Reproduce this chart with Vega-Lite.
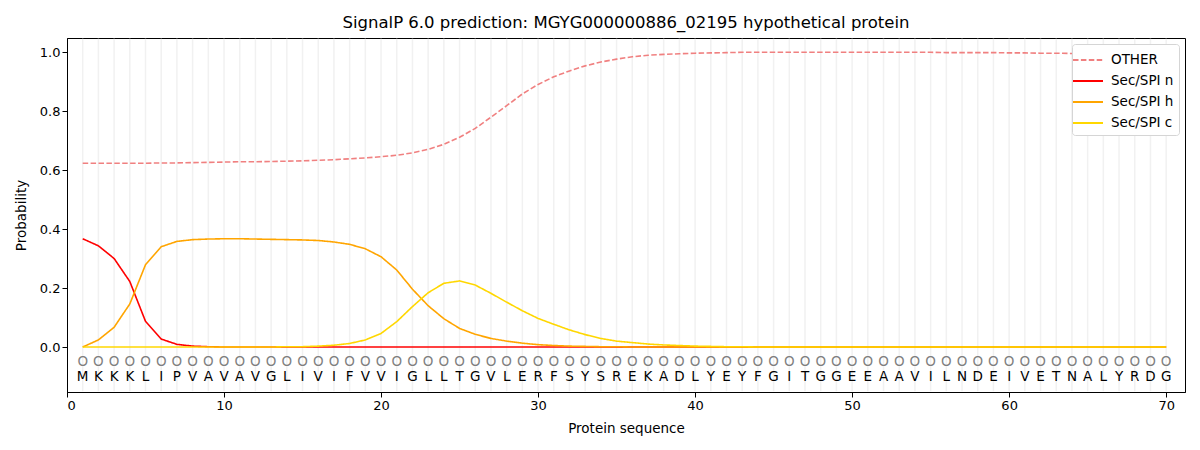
{
  "$schema": "https://vega.github.io/schema/vega-lite/v6.json",
  "description": "SignalP 6.0 per-residue probabilities",
  "autosize": {"type": "none"},
  "width": 1118,
  "height": 354,
  "padding": {"left": 67, "top": 38, "right": 15, "bottom": 58},
  "background": "white",
  "config": {
    "font": "DejaVu Sans",
    "view": {"stroke": "black", "strokeWidth": 1},
    "axis": {"labelFontSize": 13, "titleFontSize": 13.5, "titleFontWeight": "normal", "labelColor": "black", "titleColor": "black", "domainColor": "black", "tickColor": "black", "grid": false, "tickSize": 5}
  },
  "title": {"text": "SignalP 6.0 prediction: MGYG000000886_02195 hypothetical protein", "fontSize": 16.5, "fontWeight": "normal", "offset": 6},
  "data": {"values": [
    {"pos": 1, "aa": "M", "OTHER": 0.623, "Sec/SPI n": 0.367, "Sec/SPI h": 0.000, "Sec/SPI c": 0.000},
    {"pos": 2, "aa": "K", "OTHER": 0.623, "Sec/SPI n": 0.343, "Sec/SPI h": 0.024, "Sec/SPI c": 0.000},
    {"pos": 3, "aa": "K", "OTHER": 0.623, "Sec/SPI n": 0.300, "Sec/SPI h": 0.067, "Sec/SPI c": 0.000},
    {"pos": 4, "aa": "K", "OTHER": 0.623, "Sec/SPI n": 0.222, "Sec/SPI h": 0.146, "Sec/SPI c": 0.000},
    {"pos": 5, "aa": "L", "OTHER": 0.623, "Sec/SPI n": 0.087, "Sec/SPI h": 0.279, "Sec/SPI c": 0.000},
    {"pos": 6, "aa": "I", "OTHER": 0.624, "Sec/SPI n": 0.027, "Sec/SPI h": 0.340, "Sec/SPI c": 0.000},
    {"pos": 7, "aa": "P", "OTHER": 0.624, "Sec/SPI n": 0.009, "Sec/SPI h": 0.358, "Sec/SPI c": 0.000},
    {"pos": 8, "aa": "V", "OTHER": 0.625, "Sec/SPI n": 0.003, "Sec/SPI h": 0.364, "Sec/SPI c": 0.000},
    {"pos": 9, "aa": "A", "OTHER": 0.626, "Sec/SPI n": 0.001, "Sec/SPI h": 0.366, "Sec/SPI c": 0.000},
    {"pos": 10, "aa": "V", "OTHER": 0.627, "Sec/SPI n": 0.000, "Sec/SPI h": 0.367, "Sec/SPI c": 0.000},
    {"pos": 11, "aa": "A", "OTHER": 0.628, "Sec/SPI n": 0.000, "Sec/SPI h": 0.367, "Sec/SPI c": 0.000},
    {"pos": 12, "aa": "V", "OTHER": 0.628, "Sec/SPI n": 0.000, "Sec/SPI h": 0.366, "Sec/SPI c": 0.000},
    {"pos": 13, "aa": "G", "OTHER": 0.629, "Sec/SPI n": 0.000, "Sec/SPI h": 0.365, "Sec/SPI c": 0.000},
    {"pos": 14, "aa": "L", "OTHER": 0.630, "Sec/SPI n": 0.000, "Sec/SPI h": 0.364, "Sec/SPI c": 0.001},
    {"pos": 15, "aa": "I", "OTHER": 0.631, "Sec/SPI n": 0.000, "Sec/SPI h": 0.363, "Sec/SPI c": 0.001},
    {"pos": 16, "aa": "V", "OTHER": 0.633, "Sec/SPI n": 0.000, "Sec/SPI h": 0.361, "Sec/SPI c": 0.003},
    {"pos": 17, "aa": "I", "OTHER": 0.635, "Sec/SPI n": 0.000, "Sec/SPI h": 0.356, "Sec/SPI c": 0.006},
    {"pos": 18, "aa": "F", "OTHER": 0.638, "Sec/SPI n": 0.000, "Sec/SPI h": 0.348, "Sec/SPI c": 0.012},
    {"pos": 19, "aa": "V", "OTHER": 0.641, "Sec/SPI n": 0.000, "Sec/SPI h": 0.333, "Sec/SPI c": 0.024},
    {"pos": 20, "aa": "V", "OTHER": 0.645, "Sec/SPI n": 0.000, "Sec/SPI h": 0.306, "Sec/SPI c": 0.046},
    {"pos": 21, "aa": "I", "OTHER": 0.650, "Sec/SPI n": 0.000, "Sec/SPI h": 0.261, "Sec/SPI c": 0.086},
    {"pos": 22, "aa": "G", "OTHER": 0.658, "Sec/SPI n": 0.000, "Sec/SPI h": 0.196, "Sec/SPI c": 0.137},
    {"pos": 23, "aa": "L", "OTHER": 0.670, "Sec/SPI n": 0.000, "Sec/SPI h": 0.140, "Sec/SPI c": 0.184},
    {"pos": 24, "aa": "L", "OTHER": 0.687, "Sec/SPI n": 0.000, "Sec/SPI h": 0.096, "Sec/SPI c": 0.216},
    {"pos": 25, "aa": "T", "OTHER": 0.711, "Sec/SPI n": 0.000, "Sec/SPI h": 0.063, "Sec/SPI c": 0.224},
    {"pos": 26, "aa": "G", "OTHER": 0.741, "Sec/SPI n": 0.000, "Sec/SPI h": 0.043, "Sec/SPI c": 0.210},
    {"pos": 27, "aa": "V", "OTHER": 0.779, "Sec/SPI n": 0.000, "Sec/SPI h": 0.029, "Sec/SPI c": 0.182},
    {"pos": 28, "aa": "L", "OTHER": 0.818, "Sec/SPI n": 0.000, "Sec/SPI h": 0.020, "Sec/SPI c": 0.152},
    {"pos": 29, "aa": "E", "OTHER": 0.858, "Sec/SPI n": 0.000, "Sec/SPI h": 0.013, "Sec/SPI c": 0.123},
    {"pos": 30, "aa": "R", "OTHER": 0.890, "Sec/SPI n": 0.000, "Sec/SPI h": 0.008, "Sec/SPI c": 0.097},
    {"pos": 31, "aa": "F", "OTHER": 0.916, "Sec/SPI n": 0.000, "Sec/SPI h": 0.005, "Sec/SPI c": 0.077},
    {"pos": 32, "aa": "S", "OTHER": 0.936, "Sec/SPI n": 0.000, "Sec/SPI h": 0.003, "Sec/SPI c": 0.058},
    {"pos": 33, "aa": "Y", "OTHER": 0.953, "Sec/SPI n": 0.000, "Sec/SPI h": 0.002, "Sec/SPI c": 0.042},
    {"pos": 34, "aa": "S", "OTHER": 0.966, "Sec/SPI n": 0.000, "Sec/SPI h": 0.001, "Sec/SPI c": 0.029},
    {"pos": 35, "aa": "R", "OTHER": 0.976, "Sec/SPI n": 0.000, "Sec/SPI h": 0.001, "Sec/SPI c": 0.020},
    {"pos": 36, "aa": "E", "OTHER": 0.984, "Sec/SPI n": 0.000, "Sec/SPI h": 0.000, "Sec/SPI c": 0.015},
    {"pos": 37, "aa": "K", "OTHER": 0.989, "Sec/SPI n": 0.000, "Sec/SPI h": 0.000, "Sec/SPI c": 0.010},
    {"pos": 38, "aa": "A", "OTHER": 0.992, "Sec/SPI n": 0.000, "Sec/SPI h": 0.000, "Sec/SPI c": 0.007},
    {"pos": 39, "aa": "D", "OTHER": 0.994, "Sec/SPI n": 0.000, "Sec/SPI h": 0.000, "Sec/SPI c": 0.005},
    {"pos": 40, "aa": "L", "OTHER": 0.996, "Sec/SPI n": 0.000, "Sec/SPI h": 0.000, "Sec/SPI c": 0.003},
    {"pos": 41, "aa": "Y", "OTHER": 0.997, "Sec/SPI n": 0.000, "Sec/SPI h": 0.000, "Sec/SPI c": 0.002},
    {"pos": 42, "aa": "E", "OTHER": 0.998, "Sec/SPI n": 0.000, "Sec/SPI h": 0.000, "Sec/SPI c": 0.001},
    {"pos": 43, "aa": "Y", "OTHER": 0.999, "Sec/SPI n": 0.000, "Sec/SPI h": 0.000, "Sec/SPI c": 0.001},
    {"pos": 44, "aa": "F", "OTHER": 0.999, "Sec/SPI n": 0.000, "Sec/SPI h": 0.000, "Sec/SPI c": 0.000},
    {"pos": 45, "aa": "G", "OTHER": 0.999, "Sec/SPI n": 0.000, "Sec/SPI h": 0.000, "Sec/SPI c": 0.000},
    {"pos": 46, "aa": "I", "OTHER": 0.999, "Sec/SPI n": 0.000, "Sec/SPI h": 0.000, "Sec/SPI c": 0.000},
    {"pos": 47, "aa": "T", "OTHER": 0.999, "Sec/SPI n": 0.000, "Sec/SPI h": 0.000, "Sec/SPI c": 0.000},
    {"pos": 48, "aa": "G", "OTHER": 0.999, "Sec/SPI n": 0.000, "Sec/SPI h": 0.000, "Sec/SPI c": 0.000},
    {"pos": 49, "aa": "G", "OTHER": 0.999, "Sec/SPI n": 0.000, "Sec/SPI h": 0.000, "Sec/SPI c": 0.000},
    {"pos": 50, "aa": "E", "OTHER": 0.999, "Sec/SPI n": 0.000, "Sec/SPI h": 0.000, "Sec/SPI c": 0.000},
    {"pos": 51, "aa": "E", "OTHER": 0.999, "Sec/SPI n": 0.000, "Sec/SPI h": 0.000, "Sec/SPI c": 0.000},
    {"pos": 52, "aa": "A", "OTHER": 0.999, "Sec/SPI n": 0.000, "Sec/SPI h": 0.000, "Sec/SPI c": 0.000},
    {"pos": 53, "aa": "A", "OTHER": 0.999, "Sec/SPI n": 0.000, "Sec/SPI h": 0.000, "Sec/SPI c": 0.000},
    {"pos": 54, "aa": "V", "OTHER": 0.999, "Sec/SPI n": 0.000, "Sec/SPI h": 0.000, "Sec/SPI c": 0.000},
    {"pos": 55, "aa": "I", "OTHER": 0.999, "Sec/SPI n": 0.000, "Sec/SPI h": 0.000, "Sec/SPI c": 0.000},
    {"pos": 56, "aa": "L", "OTHER": 0.998, "Sec/SPI n": 0.000, "Sec/SPI h": 0.000, "Sec/SPI c": 0.000},
    {"pos": 57, "aa": "N", "OTHER": 0.998, "Sec/SPI n": 0.000, "Sec/SPI h": 0.000, "Sec/SPI c": 0.000},
    {"pos": 58, "aa": "D", "OTHER": 0.998, "Sec/SPI n": 0.000, "Sec/SPI h": 0.000, "Sec/SPI c": 0.000},
    {"pos": 59, "aa": "E", "OTHER": 0.998, "Sec/SPI n": 0.000, "Sec/SPI h": 0.000, "Sec/SPI c": 0.000},
    {"pos": 60, "aa": "I", "OTHER": 0.997, "Sec/SPI n": 0.000, "Sec/SPI h": 0.000, "Sec/SPI c": 0.000},
    {"pos": 61, "aa": "V", "OTHER": 0.997, "Sec/SPI n": 0.000, "Sec/SPI h": 0.000, "Sec/SPI c": 0.000},
    {"pos": 62, "aa": "E", "OTHER": 0.996, "Sec/SPI n": 0.000, "Sec/SPI h": 0.000, "Sec/SPI c": 0.000},
    {"pos": 63, "aa": "T", "OTHER": 0.996, "Sec/SPI n": 0.000, "Sec/SPI h": 0.000, "Sec/SPI c": 0.000},
    {"pos": 64, "aa": "N", "OTHER": 0.995, "Sec/SPI n": 0.000, "Sec/SPI h": 0.000, "Sec/SPI c": 0.000},
    {"pos": 65, "aa": "A", "OTHER": 0.995, "Sec/SPI n": 0.000, "Sec/SPI h": 0.000, "Sec/SPI c": 0.000},
    {"pos": 66, "aa": "L", "OTHER": 0.995, "Sec/SPI n": 0.000, "Sec/SPI h": 0.000, "Sec/SPI c": 0.000},
    {"pos": 67, "aa": "Y", "OTHER": 0.995, "Sec/SPI n": 0.000, "Sec/SPI h": 0.000, "Sec/SPI c": 0.000},
    {"pos": 68, "aa": "R", "OTHER": 0.996, "Sec/SPI n": 0.000, "Sec/SPI h": 0.000, "Sec/SPI c": 0.000},
    {"pos": 69, "aa": "D", "OTHER": 0.997, "Sec/SPI n": 0.000, "Sec/SPI h": 0.000, "Sec/SPI c": 0.000},
    {"pos": 70, "aa": "G", "OTHER": 0.998, "Sec/SPI n": 0.000, "Sec/SPI h": 0.000, "Sec/SPI c": 0.000}
  ]},
  "layer": [
    {
      "mark": {"type": "rule", "color": "#f1f1f1", "strokeWidth": 1.5},
      "encoding": {
        "x": {"field": "pos", "type": "quantitative", "scale": {"domain": [0, 71.2], "nice": false, "zero": false},
              "axis": {"values": [0, 10, 20, 30, 40, 50, 60, 70], "title": "Protein sequence", "titlePadding": 9}},
        "y": {"datum": -0.15, "type": "quantitative"},
        "y2": {"datum": 1.045}
      }
    },
    {
      "mark": {"type": "text", "text": "O", "color": "#7f7f7f", "fontSize": 13.5, "baseline": "middle"},
      "encoding": {
        "x": {"field": "pos", "type": "quantitative"},
        "y": {"datum": -0.05, "type": "quantitative"}
      }
    },
    {
      "mark": {"type": "text", "color": "black", "fontSize": 13.5, "baseline": "middle"},
      "encoding": {
        "x": {"field": "pos", "type": "quantitative"},
        "y": {"datum": -0.102, "type": "quantitative"},
        "text": {"field": "aa"}
      }
    },
    {
      "transform": [{"fold": ["OTHER", "Sec/SPI n", "Sec/SPI h", "Sec/SPI c"], "as": ["label", "prob"]}],
      "mark": {"type": "line", "strokeWidth": 1.6},
      "encoding": {
        "x": {"field": "pos", "type": "quantitative"},
        "y": {"field": "prob", "type": "quantitative", "scale": {"domain": [-0.1525, 1.0475], "nice": false, "zero": false},
              "axis": {"values": [0, 0.2, 0.4, 0.6, 0.8, 1.0], "format": ".1f", "title": "Probability", "titlePadding": 11}},
        "color": {"field": "label", "type": "nominal",
                  "scale": {"domain": ["OTHER", "Sec/SPI n", "Sec/SPI h", "Sec/SPI c"], "range": ["#f08080", "#ff0000", "#ffa500", "#ffd700"]},
                  "legend": {"title": null, "orient": "top-right", "offset": 6, "labelFontSize": 13.5, "labelOffset": 12, "symbolType": "M-1.5,0H1.5", "symbolSize": 400, "symbolStrokeWidth": 2, "rowPadding": 3, "padding": 5, "fillColor": "white", "strokeColor": "#d5d5d5", "cornerRadius": 3, "labelColor": "black"}},
        "strokeDash": {"field": "label", "type": "nominal",
                       "scale": {"domain": ["OTHER", "Sec/SPI n", "Sec/SPI h", "Sec/SPI c"], "range": [[5.5, 2.4], [1, 0], [1, 0], [1, 0]]},
                       "legend": null}
      }
    }
  ]
}
